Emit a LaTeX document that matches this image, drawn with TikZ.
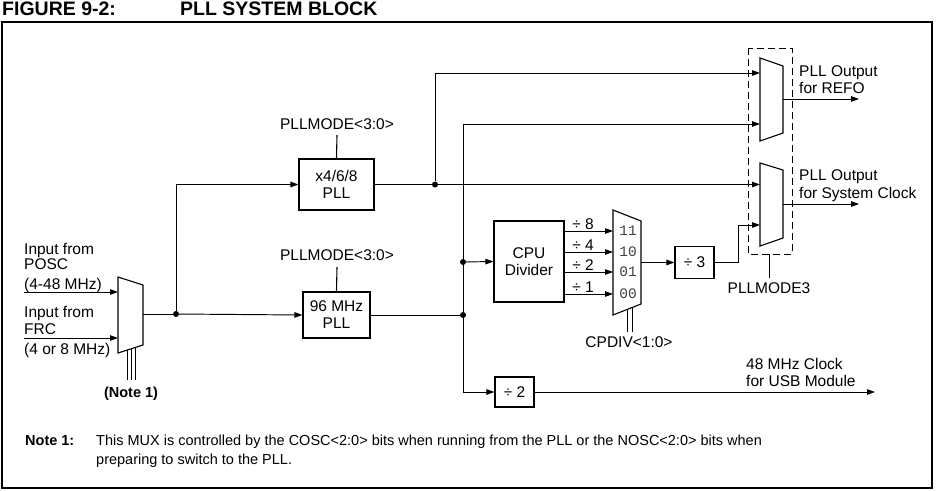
\documentclass[tikz,border=0pt]{standalone}
\usepackage{fontspec}
\setmainfont{Liberation Sans}
\newfontfamily\monofont{Liberation Mono}
\usetikzlibrary{arrows.meta}
\tikzset{
  conn/.style={line width=0.95pt},
  arr/.style={conn,-{Triangle[length=8pt,width=5.5pt]}},
  blk/.style={draw,line width=1.1pt,inner sep=0pt,align=center,font=\fontsize{15.5}{17}\selectfont},
  lbl/.style={inner sep=0pt,font=\fontsize{15.5}{17}\selectfont},
  mono/.style={inner sep=0pt,font=\monofont\fontsize{14.5}{16}\selectfont,text=black!75},
  muxs/.style={draw,line width=1.1pt,line join=miter},
  dotn/.style={circle,fill,inner sep=0pt,minimum size=6pt},
}
\begin{document}
\begin{tikzpicture}[x=1pt,y=-1pt]
\useasboundingbox (0,0) rectangle (936,490);
% title and frame
\node[inner sep=0pt,anchor=base west,font=\bfseries\fontsize{19.5}{21}\selectfont] (t1) at (2,15) {FIGURE 9-2:};
\node[inner sep=0pt,anchor=base west,font=\bfseries\fontsize{19.5}{21}\selectfont] (t2) at (180,15) {PLL SYSTEM BLOCK};
\draw[line width=1.4pt] (2,22) rectangle (932,488);

% input labels
\node[lbl,anchor=base west] (i1) at (24,254) {Input from};
\node[lbl,anchor=base west] (i2) at (24,269) {POSC};
\node[lbl,anchor=base west] (i3) at (24,289) {(4-48 MHz)};
\node[lbl,anchor=base west] (i4) at (24,317) {Input from};
\node[lbl,anchor=base west] (i5) at (24,334) {FRC};
\node[lbl,anchor=base west] (i6) at (24,354) {(4 or 8 MHz)};
\coordinate (inA) at (24,292);
\coordinate (inB) at (24,338);

% input mux
\draw[muxs] (118,277) -- (143,285) -- (143,345) -- (118,353) -- cycle;
\coordinate (mAi1) at (118,292);
\coordinate (mAi2) at (118,338);
\coordinate (mAo) at (143,314);
\draw[arr] (inA) -- (mAi1);
\draw[arr] (inB) -- (mAi2);
\coordinate (c1a) at (127.5,350); \coordinate (c1b) at (127.5,380);
\coordinate (c2a) at (131.5,349); \coordinate (c2b) at (131.5,380);
\coordinate (c3a) at (135.5,348); \coordinate (c3b) at (135.5,380);
\draw[conn] (c1a) -- (c1b); \draw[conn] (c2a) -- (c2b); \draw[conn] (c3a) -- (c3b);
\node[inner sep=0pt,anchor=base,font=\bfseries\fontsize{14.5}{16}\selectfont] (n1) at (131,397) {(Note 1)};

% PLL blocks
\node[blk,minimum width=75pt,minimum height=51pt] (pll1) at (336.5,184.5) {x4/6/8\\PLL};
\node[blk,minimum width=67pt,minimum height=46pt] (pll2) at (336.5,315) {96 MHz\\PLL};
\node[lbl,anchor=base] (pm1) at (337,129.5) {PLLMODE<3:0>};
\node[lbl,anchor=base] (pm2) at (337,260) {PLLMODE<3:0>};
\coordinate (pm1b) at (337,135);
\coordinate (pm2b) at (337,267);
\draw[line width=1.1pt] (pm1b) -- (pll1.north);
\draw[line width=1.1pt] (pm2b) -- (pll2.north);

\node[dotn] (d1) at (176,314) {};
\draw[conn] (mAo) -- (d1);
\draw[arr] (d1) -- (pll2.west);
\draw[arr] (d1) |- (pll1.west);

% right muxes
\draw[muxs] (760,58) -- (783,66) -- (783,133) -- (760,141) -- cycle;
\draw[muxs] (760,163) -- (783,170) -- (783,238) -- (760,246) -- cycle;
\coordinate (ri1) at (760,73);
\coordinate (ri2) at (760,124);
\coordinate (ro) at (783,99);
\coordinate (roe) at (859,99);
\coordinate (si1) at (760,184.5);
\coordinate (si2) at (760,225);
\coordinate (so) at (783,204);
\coordinate (soe) at (859,204);
\draw[arr] (ro) -- (roe);
\draw[arr] (so) -- (soe);
\draw[line width=1pt,dash pattern=on 7pt off 4pt] (748,48) rectangle (792,254);
\coordinate (pm3t) at (769,254);
\node[lbl,anchor=base] (pm3) at (769,293) {PLLMODE3};
\coordinate (pm3b) at (769,278);
\draw[conn] (pm3t) -- (pm3b);
\node[lbl,anchor=base west] (o1) at (799,76) {PLL Output};
\node[lbl,anchor=base west] (o2) at (799,93) {for REFO};
\node[lbl,anchor=base west] (o3) at (799,180) {PLL Output};
\node[lbl,anchor=base west] (o4) at (799,198) {for System Clock};

% x4 PLL output
\node[dotn] (d2) at (435,184.5) {};
\draw[conn] (pll1.east) -- (d2);
\draw[arr] (d2) -- (si1);
\draw[arr] (d2) |- (ri1);

% bus from 96 MHz PLL
\node[dotn] (b1) at (463,262) {};
\node[dotn] (b2) at (463,315) {};
\draw[conn] (pll2.east) -- (b2);
\draw[arr] (b2) |- (ri2);

% CPU divider
\node[blk,minimum width=70pt,minimum height=81pt] (cpu) at (529,261.5) {CPU\\Divider};
\draw[arr] (b1) -- (cpu.west);
\draw[muxs] (613,210) -- (641,221) -- (641,304) -- (613,315) -- cycle;
\foreach \y/\d/\c [count=\k] in {231/8/11,252/4/10,272/2/01,294/1/00}{
  \coordinate (cs\k) at (564,\y);
  \coordinate (ce\k) at (613,\y);
  \draw[arr] (cs\k) -- (ce\k);
  \node[lbl,anchor=base] (dl\k) at (583,\y-1.5) {\char"00F7{} \d};
  \node[mono] (ml\k) at (628,\y) {\c};
}
\coordinate (cpo) at (641,262.5);
\node[blk,minimum width=39pt,minimum height=32pt] (div3) at (694.5,262.5) {\char"00F7{} 3};
\draw[arr] (cpo) -- (div3.west);
\coordinate (k1) at (738,225);
\draw[arr] (div3.east) -| (k1) -- (si2);
\coordinate (cp1a) at (627,309.5); \coordinate (cp1b) at (627,332);
\coordinate (cp2a) at (632,307.5); \coordinate (cp2b) at (632,332);
\draw[conn] (cp1a) -- (cp1b); \draw[conn] (cp2a) -- (cp2b);
\node[lbl,anchor=base] (cpd) at (629,347) {CPDIV<1:0>};

% divide by 2
\node[blk,minimum width=39pt,minimum height=30pt] (div2) at (514.5,392) {\char"00F7{} 2};
\draw[arr] (b2) |- (div2.west);
\coordinate (usb) at (875,392);
\draw[arr] (div2.east) -- (usb);
\node[lbl,anchor=base west] (u1) at (746,369) {48 MHz Clock};
\node[lbl,anchor=base west] (u2) at (746,386) {for USB Module};

% note
\node[inner sep=0pt,anchor=base west,font=\bfseries\fontsize{14.5}{16}\selectfont] (nt) at (25,445) {Note 1:};
\node[inner sep=0pt,anchor=base west,font=\fontsize{14.5}{16}\selectfont] (nl1) at (96,445) {This MUX is controlled by the COSC<2:0> bits when running from the PLL or the NOSC<2:0> bits when};
\node[inner sep=0pt,anchor=base west,font=\fontsize{14.5}{16}\selectfont] (nl2) at (96,464) {preparing to switch to the PLL.};
\end{tikzpicture}
\end{document}
